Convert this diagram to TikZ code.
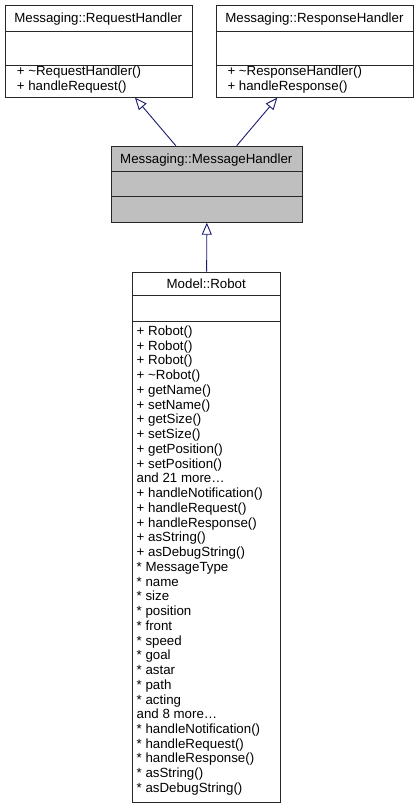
\documentclass[tikz,border=0pt]{standalone}
\usepackage{fontspec}
\setmainfont{Liberation Sans}
\usetikzlibrary{arrows.meta}
\definecolor{edgeblue}{RGB}{25,25,112}
\definecolor{mhgray}{RGB}{191,191,191}
\definecolor{boxline}{RGB}{40,40,40}
\tikzset{
  umlbox/.style={draw=boxline, line width=1pt, inner sep=0pt, anchor=north west},
  sepline/.style={draw=boxline, line width=1pt},
  txt/.style={inner sep=0pt, font=\fontsize{13.3}{15}\selectfont},
  inh/.style={draw=edgeblue, line width=0.9pt, -{Triangle[open, length=12pt, width=10pt, fill=white]}},
}
\begin{document}
\begin{tikzpicture}[x=1pt,y=-1pt]
\useasboundingbox (0,0) rectangle (419,808);
% Request handler
\node[umlbox, minimum width=187.5pt, minimum height=91.7pt] (rh) at (4.5,5) {};
\draw[sepline] (rh.west |- 0,31.7) -- (rh.east |- 0,31.7);
\draw[sepline] (rh.west |- 0,65.7) -- (rh.east |- 0,65.7);
\node[txt, anchor=base] (rht) at (98.2,23) {Messaging::RequestHandler};
\node[txt, anchor=base west] (rhm1) at (16.7,75.5) {+ \textasciitilde RequestHandler()};
\node[txt, anchor=base west] (rhm2) at (16.7,90.2) {+ handleRequest()};
% Response handler
\node[umlbox, minimum width=197.3pt, minimum height=91.7pt] (sh) at (215.7,5) {};
\draw[sepline] (sh.west |- 0,31.7) -- (sh.east |- 0,31.7);
\draw[sepline] (sh.west |- 0,65.7) -- (sh.east |- 0,65.7);
\node[txt, anchor=base] (sht) at (314.4,23) {Messaging::ResponseHandler};
\node[txt, anchor=base west] (shm1) at (227.3,75.5) {+ \textasciitilde ResponseHandler()};
\node[txt, anchor=base west] (shm2) at (227.3,90.2) {+ handleResponse()};
% Message handler
\node[umlbox, fill=mhgray, minimum width=190.7pt, minimum height=76pt] (mh) at (111,145.7) {};
\draw[sepline] (mh.west |- 0,171.7) -- (mh.east |- 0,171.7);
\draw[sepline] (mh.west |- 0,196.7) -- (mh.east |- 0,196.7);
\node[txt, anchor=base] (mht) at (206.3,163.3) {Messaging::MessageHandler};
% Robot
\node[umlbox, minimum width=147.7pt, minimum height=530.3pt] (rb) at (132.3,271.7) {};
\draw[sepline] (rb.west |- 0,295) -- (rb.east |- 0,295);
\draw[sepline] (rb.west |- 0,321.7) -- (rb.east |- 0,321.7);
\node[txt, anchor=base] (rbt) at (206.2,288) {Model::Robot};
\foreach \t [count=\i from 0] in {
  + Robot(), + Robot(), + Robot(), + \textasciitilde Robot(), + getName(), + setName(),
  + getSize(), + setSize(), + getPosition(), + setPosition(), and 21 more\ldots,
  + handleNotification(), + handleRequest(), + handleResponse(), + asString(),
  + asDebugString(), * MessageType, * name, * size, * position, * front, * speed,
  * goal, * astar, * path, * acting, and 8 more\ldots, * handleNotification(),
  * handleRequest(), * handleResponse(), * asString(), * asDebugString()}
  \node[txt, anchor=base west] (rbl\i) at (136.5,335.5+14.74*\i) {\t};
% inheritance edges
\draw[inh] ([xshift=64.8pt]mh.north west) -- ([xshift=130.5pt]rh.south west);
\draw[inh] ([xshift=125.7pt]mh.north west) -- ([xshift=61.6pt]sh.south west);
\draw[inh] (rb.north) -- (mh.south);
\end{tikzpicture}
\end{document}
